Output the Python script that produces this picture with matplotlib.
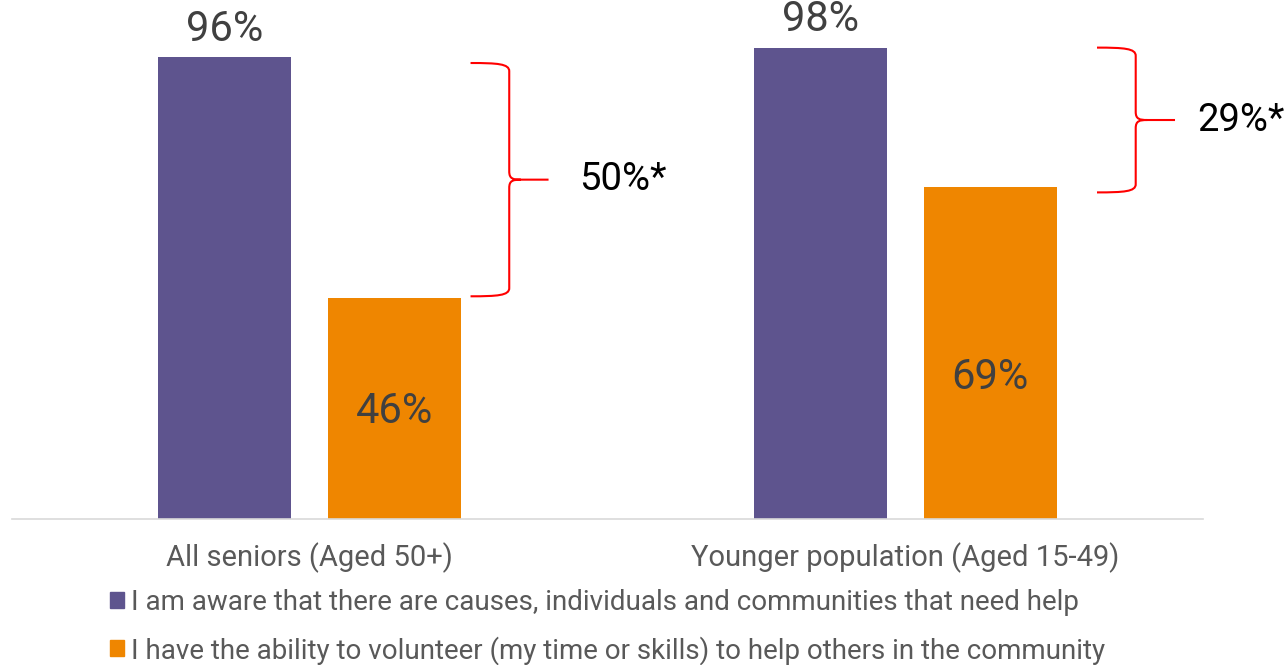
import matplotlib.pyplot as plt
import numpy as np
from matplotlib.path import Path
from matplotlib.patches import PathPatch, Patch

plt.rcParams['font.family'] = ['Roboto', 'DejaVu Sans']

categories = ['All seniors (Aged 50+)', 'Younger population (Aged 15-49)']
series_names = ['I am aware that there are causes, individuals and communities that need help',
                'I have the ability to volunteer (my time or skills) to help others in the community']
aware = [96, 98]
ability = [46, 69]
gap_labels = ['50%*', '29%*']
# vertical position of the value labels inside the orange bars
ability_label_y = [22.4, 29.5]
# extent of the braces (in %)
brace_top = [94.8, 98.0]
brace_bot = [46.3, 67.9]

purple = '#5e548e'
orange = '#ef8600'
bar_w = 0.223
off = 0.1427


def brace(ax, x0, xs, xtip, ytop, ybot, rx=0.013, ry=1.7):
    ymid = (ytop + ybot) / 2
    verts = [
        (x0, ytop), (xs - rx * 1.5, ytop), (xs, ytop - ry * 0.1), (xs, ytop - ry),
        (xs, ymid + ry),
        (xs, ymid + ry * 0.1), (xs + rx * 0.5, ymid), (xs + rx * 1.5, ymid),
        (xtip, ymid),
        (xs + rx * 1.5, ymid), (xs + rx * 0.5, ymid), (xs, ymid - ry * 0.1),
        (xs, ymid - ry),
        (xs, ybot + ry),
        (xs, ybot + ry * 0.1), (xs - rx * 1.5, ybot), (x0, ybot),
    ]
    codes = [Path.MOVETO, Path.CURVE4, Path.CURVE4, Path.CURVE4,
             Path.LINETO,
             Path.CURVE4, Path.CURVE4, Path.CURVE4,
             Path.LINETO,
             Path.MOVETO, Path.CURVE4, Path.CURVE4, Path.CURVE4,
             Path.LINETO,
             Path.CURVE4, Path.CURVE4, Path.CURVE4]
    ax.add_patch(PathPatch(Path(verts, codes), facecolor='none', edgecolor='#ff0000',
                           lw=1.5, clip_on=False))
    return ymid


fig = plt.figure(figsize=(12.88, 6.65), dpi=100)
ax = fig.add_axes([12 / 1288, 146 / 665, 1191 / 1288, 481 / 665])

x = np.arange(len(categories))
ax.bar(x - off, aware, bar_w, color=purple)
ax.bar(x + off, ability, bar_w, color=orange)

for i in range(len(categories)):
    ax.text(x[i] - off, aware[i] + 1.6, f'{aware[i]}%', ha='center', va='bottom',
            fontsize=30, color='#404040')
    ax.text(x[i] + off, ability_label_y[i], f'{ability[i]}%', ha='center', va='center',
            fontsize=30, color='#404040')

# braces showing the gap between the two statements
brace_x0 = [0.270, 1.322]
label_dx = [0.183, 0.168]
for i in range(len(categories)):
    x0 = brace_x0[i]
    ymid = brace(ax, x0, x0 + 0.065, x0 + 0.131, brace_top[i], brace_bot[i])
    ax.text(x0 + label_dx[i], ymid, gap_labels[i], ha='left', va='center',
            fontsize=27.5, color='black')

ax.set_xlim(-0.5, 1.5)
ax.set_ylim(0, 100)
ax.set_xticks(x)
ax.set_xticklabels(categories, fontsize=21, color='#595959')
ax.tick_params(axis='x', length=0, pad=17)
ax.set_yticks([])
for s in ['top', 'right', 'left']:
    ax.spines[s].set_visible(False)
ax.spines['bottom'].set_color('#d9d9d9')
ax.spines['bottom'].set_linewidth(1.2)

handles = [Patch(color=purple), Patch(color=orange)]
fig.legend(handles, series_names, loc='upper left', bbox_to_anchor=(96 / 1288, 1 - 575 / 665),
           frameon=False, fontsize=20, labelcolor='#595959', handlelength=0.5,
           handleheight=0.5, handletextpad=0.25, labelspacing=0.72, borderpad=0)

fig.savefig('out.png', dpi=100)
